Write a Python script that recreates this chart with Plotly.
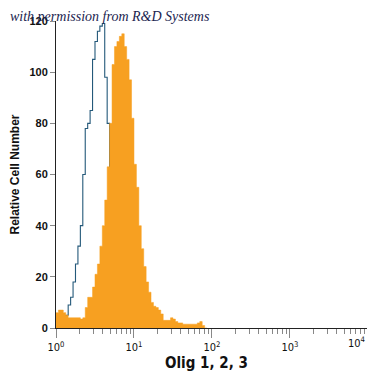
import plotly.graph_objects as go

# 128 log-spaced channels spanning 10^0 .. 10^4 (1/32 decade each)
n_channels = 128
channel_left = [10 ** (k * 4 / n_channels) for k in range(n_channels + 1)]

# Isotype control (blue outline) counts, channels 0..27
isotype_counts = [2, 2, 3, 4, 5, 9, 12, 18, 25, 32, 40, 60, 78, 80, 85, 105,
                  112, 116, 118, 119, 98, 80, 50, 25, 10, 4, 1, 0]

# Olig 1, 2, 3 stained (orange filled) counts, channels 0..61
stained_counts = [6, 7, 7, 6, 5, 4, 4, 4, 4, 4, 3.5, 4, 8, 12, 12, 16,
                  21, 25, 32, 40, 50, 63, 80, 103, 110, 112, 114, 115, 110, 105, 97, 82,
                  64, 55, 40, 31, 24, 18, 14, 10, 8.5, 8, 7, 5.5, 3, 3, 3, 4,
                  3.5, 2.5, 2, 2, 1.5, 1.5, 1.5, 1.5, 1.5, 1.5, 2, 2.5, 1, 0]

y_tickvals = [0, 20, 40, 60, 80, 100, 120]
x_tickvals = [1, 10, 100, 1000, 10000]
x_ticktext = ["10<sup>0</sup>", "10<sup>1</sup>", "10<sup>2</sup>", "10<sup>3</sup>", "10<sup>4</sup>"]


def step_xy(counts):
    xs, ys = [], []
    for k, c in enumerate(counts):
        xs += [channel_left[k], channel_left[k + 1]]
        ys += [c, c]
    return xs, ys


bx, by = step_xy(isotype_counts)
ox, oy = step_xy(stained_counts)

fig = go.Figure()
fig.add_trace(go.Scatter(x=bx, y=by, mode="lines",
                         line=dict(color="#24597a", width=1.1),
                         hoverinfo="skip", showlegend=False))
fig.add_trace(go.Scatter(x=ox, y=oy, mode="lines", fill="tozeroy",
                         line=dict(color="#f7a021", width=0.5),
                         fillcolor="#f7a021",
                         hoverinfo="skip", showlegend=False))

# the page body has an 8px margin, so the figure is 367px and offsets are page-8
W = H = 367
L, R, T, B = 48, 7, 13, 47
PW, PH = W - L - R, H - T - B

tick_font = dict(family="DejaVu Sans Condensed", size=11, color="#111")
# last label sits at the page edge: draw it right-aligned so it stays visible
shown_ticktext = x_ticktext[:-1] + [""]

fig.update_layout(
    width=W, height=H,
    margin=dict(l=L, r=R, t=T, b=B, autoexpand=False),
    paper_bgcolor="white", plot_bgcolor="white",
    xaxis=dict(type="log", range=[0, 4.0015], tickvals=x_tickvals, ticktext=shown_ticktext,
               automargin=False,
               ticks="outside", ticklen=9, tickcolor="#888", tickwidth=1,
               minor=dict(ticks="outside", ticklen=5, dtick="D1", tickcolor="#888", tickwidth=1),
               showline=True, linecolor="#222", linewidth=1, showgrid=False, zeroline=False,
               tickfont=tick_font),
    yaxis=dict(range=[0, 120], tickvals=y_tickvals, automargin=False,
               ticks="outside", ticklen=5, tickcolor="#888", tickwidth=1,
               showline=True, linecolor="#222", linewidth=1, showgrid=False, zeroline=False,
               tickfont=dict(family="Liberation Sans", size=11, color="#111", weight="bold"),
               title=dict(text="<b>Relative Cell Number</b>", standoff=12,
                          font=dict(family="Liberation Sans", size=12, color="#111"))),
    annotations=[
        dict(text="<i>with permission from R&amp;D Systems</i>",
             x=(0 - L) / PW, y=(H - B + 1) / PH, xanchor="left", yanchor="top",
             xref="paper", yref="paper", showarrow=False,
             font=dict(family="Liberation Serif", size=14, color="#1c2550")),
        dict(text="<b>Olig 1, 2, 3</b>",
             x=(198 - L) / PW, y=-(355 - (H - B)) / PH, xanchor="center", yanchor="middle",
             xref="paper", yref="paper", showarrow=False,
             font=dict(family="DejaVu Sans Condensed", size=15, color="#111")),
        dict(text=x_ticktext[-1],
             x=(W - 7 - L) / PW, y=-(334 - (H - B)) / PH, xanchor="right", yanchor="middle",
             xref="paper", yref="paper", showarrow=False, font=tick_font),
    ],
)
fig.update_xaxes(layer="above traces")
fig.update_yaxes(layer="above traces")

fig.write_html("out.html")
